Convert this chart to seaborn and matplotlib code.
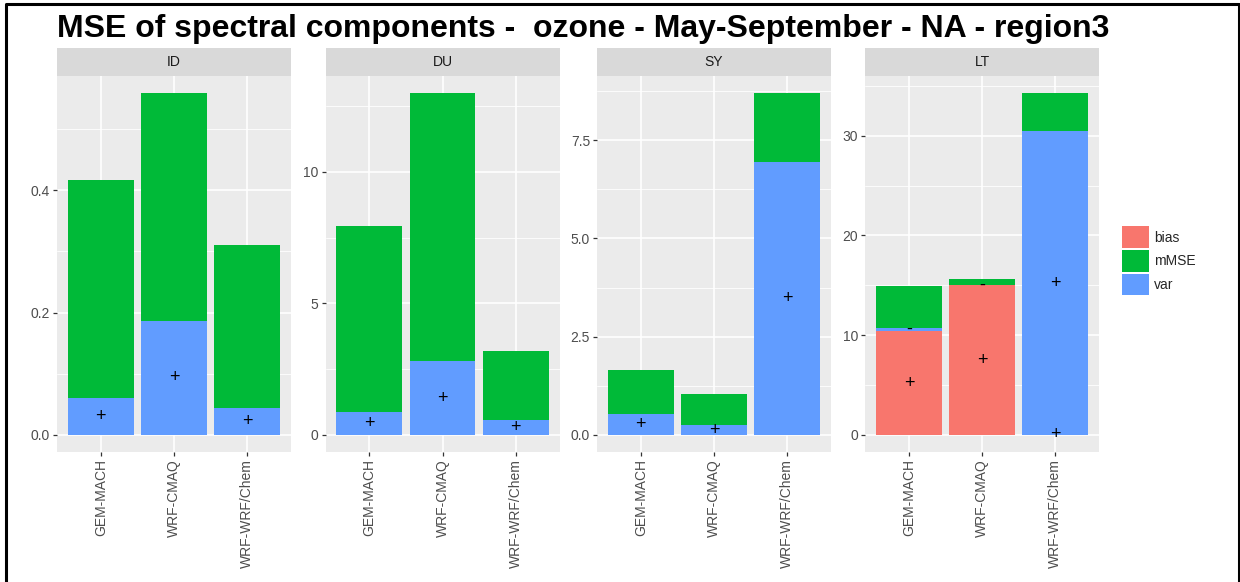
import numpy as np
import pandas as pd
import seaborn as sns
import matplotlib.pyplot as plt
from matplotlib.patches import Patch, Rectangle

# Data
models = ["GEM-MACH", "WRF-CMAQ", "WRF-WRF/Chem"]
panels = ["ID", "DU", "SY", "LT"]

bias = {
    "ID": [0.0, 0.0, 0.0],
    "DU": [0.0, 0.0, 0.0],
    "SY": [0.0, 0.0, 0.0],
    "LT": [10.38, 15.0, 0.0],
}
var = {
    "ID": [0.061, 0.187, 0.044],
    "DU": [0.86, 2.80, 0.56],
    "SY": [0.53, 0.24, 6.94],
    "LT": [0.37, 0.05, 30.45],
}
mmse = {
    "ID": [0.3565, 0.372, 0.267],
    "DU": [7.10, 10.20, 2.63],
    "SY": [1.13, 0.81, 1.76],
    "LT": [4.15, 0.55, 3.82],
}
# sign labels drawn at the middle of the bias / var segments ('' = none)
bias_sign = {
    "ID": ["", "", ""],
    "DU": ["", "", ""],
    "SY": ["", "", ""],
    "LT": ["+", "+", "+"],
}
var_sign = {
    "ID": ["+", "+", "+"],
    "DU": ["+", "+", "+"],
    "SY": ["+", "+", "+"],
    "LT": ["-", "-", "+"],
}
major_step = {"ID": 0.2, "DU": 5, "SY": 2.5, "LT": 10}
tick_fmt = {"ID": "{:.1f}", "DU": "{:.0f}", "SY": "{:.1f}", "LT": "{:.0f}"}

colors = {"bias": "#F8766D", "mMSE": "#00BA38", "var": "#619CFF"}

sns.set_theme(style="darkgrid", rc={
    "axes.facecolor": "#EBEBEB",
    "grid.color": "white",
    "axes.edgecolor": "none",
})
plt.rcParams["font.family"] = ["Liberation Sans", "DejaVu Sans"]

W, H = 1240, 582
fig = plt.figure(figsize=(W / 100, H / 100), dpi=100)

lefts = [57, 325.5, 597, 865]
pw = 234
top_px, bot_px = 76, 452

for p, lx in zip(panels, lefts):
    ax = fig.add_axes([lx / W, (H - bot_px) / H, pw / W, (bot_px - top_px) / H])
    df = pd.DataFrame({
        "model": models,
        "bias": bias[p],
        "var": var[p],
        "mMSE": mmse[p],
    })
    df["bv"] = df["bias"] + df["var"]
    df["total"] = df["bv"] + df["mMSE"]

    # stacked bars drawn back to front
    sns.barplot(data=df, x="model", y="total", color=colors["mMSE"], width=0.9,
                saturation=1, linewidth=0, ax=ax, zorder=2)
    sns.barplot(data=df, x="model", y="bv", color=colors["var"], width=0.9,
                saturation=1, linewidth=0, ax=ax, zorder=3)
    sns.barplot(data=df, x="model", y="bias", color=colors["bias"], width=0.9,
                saturation=1, linewidth=0, ax=ax, zorder=4)

    for i in range(len(models)):
        if bias_sign[p][i]:
            ax.text(i, df["bias"][i] / 2, bias_sign[p][i], ha="center", va="center",
                    fontsize=13, color="black", zorder=6)
        if var_sign[p][i]:
            ax.text(i, df["bias"][i] + df["var"][i] / 2, var_sign[p][i], ha="center",
                    va="center", fontsize=13, color="black", zorder=6)

    ymax = df["total"].max()
    ax.set_ylim(-0.05 * ymax, 1.05 * ymax)
    ax.set_xlim(-0.6, 2.6)
    step = major_step[p]
    majors = np.arange(0, ymax * 1.05 + 1e-9, step)
    minors = np.arange(step / 2, ymax * 1.05, step)
    ax.set_yticks(majors)
    ax.set_yticklabels([tick_fmt[p].format(v) for v in majors])
    ax.set_yticks(minors, minor=True)
    ax.grid(True, which="major", color="white", linewidth=1.2, zorder=0)
    ax.grid(True, which="minor", axis="y", color="white", linewidth=0.6, zorder=0)
    ax.set_axisbelow(True)
    ax.set_xlabel("")
    ax.set_ylabel("")
    ax.tick_params(axis="both", which="major", length=3, width=0.9, color="#333333",
                   labelsize=10, labelcolor="#4D4D4D", pad=2, left=True, bottom=True)
    ax.tick_params(axis="y", which="minor", length=0)
    ax.tick_params(axis="x", labelrotation=90)
    for lab in ax.get_xticklabels():
        lab.set_va("top")

    # facet strip
    sh = 28 / (bot_px - top_px)
    ax.add_patch(Rectangle((0, 1), 1, sh, transform=ax.transAxes, facecolor="#D9D9D9",
                           edgecolor="none", clip_on=False))
    ax.text(0.5, 1 + sh / 2, p, transform=ax.transAxes, ha="center", va="center",
            fontsize=10, color="#1A1A1A")

fig.text(57 / W, 1 - 37.5 / H, "MSE of spectral components -  ozone - May-September - NA - region3",
         fontsize=23, fontweight="bold", ha="left", va="baseline", color="black")

handles = [Patch(facecolor=colors[k], edgecolor="none", label=k) for k in ["bias", "mMSE", "var"]]
fig.legend(handles=handles, loc="upper left", bbox_to_anchor=(1121.5 / W, 1 - 226.5 / H),
           frameon=False, fontsize=10, handlelength=2.0, handleheight=2.0,
           labelspacing=0.15, handletextpad=0.35, borderpad=0, borderaxespad=0)

# black frame (bottom edge cut off in the reference)
fig.add_artist(plt.Line2D([5.5 / W, 5.5 / W, 1238.5 / W, 1238.5 / W],
                          [-0.01, 1 - 4 / H, 1 - 4 / H, -0.01],
                          transform=fig.transFigure, color="black", linewidth=2.2))

fig.savefig("out.png", dpi=100, facecolor="white")
